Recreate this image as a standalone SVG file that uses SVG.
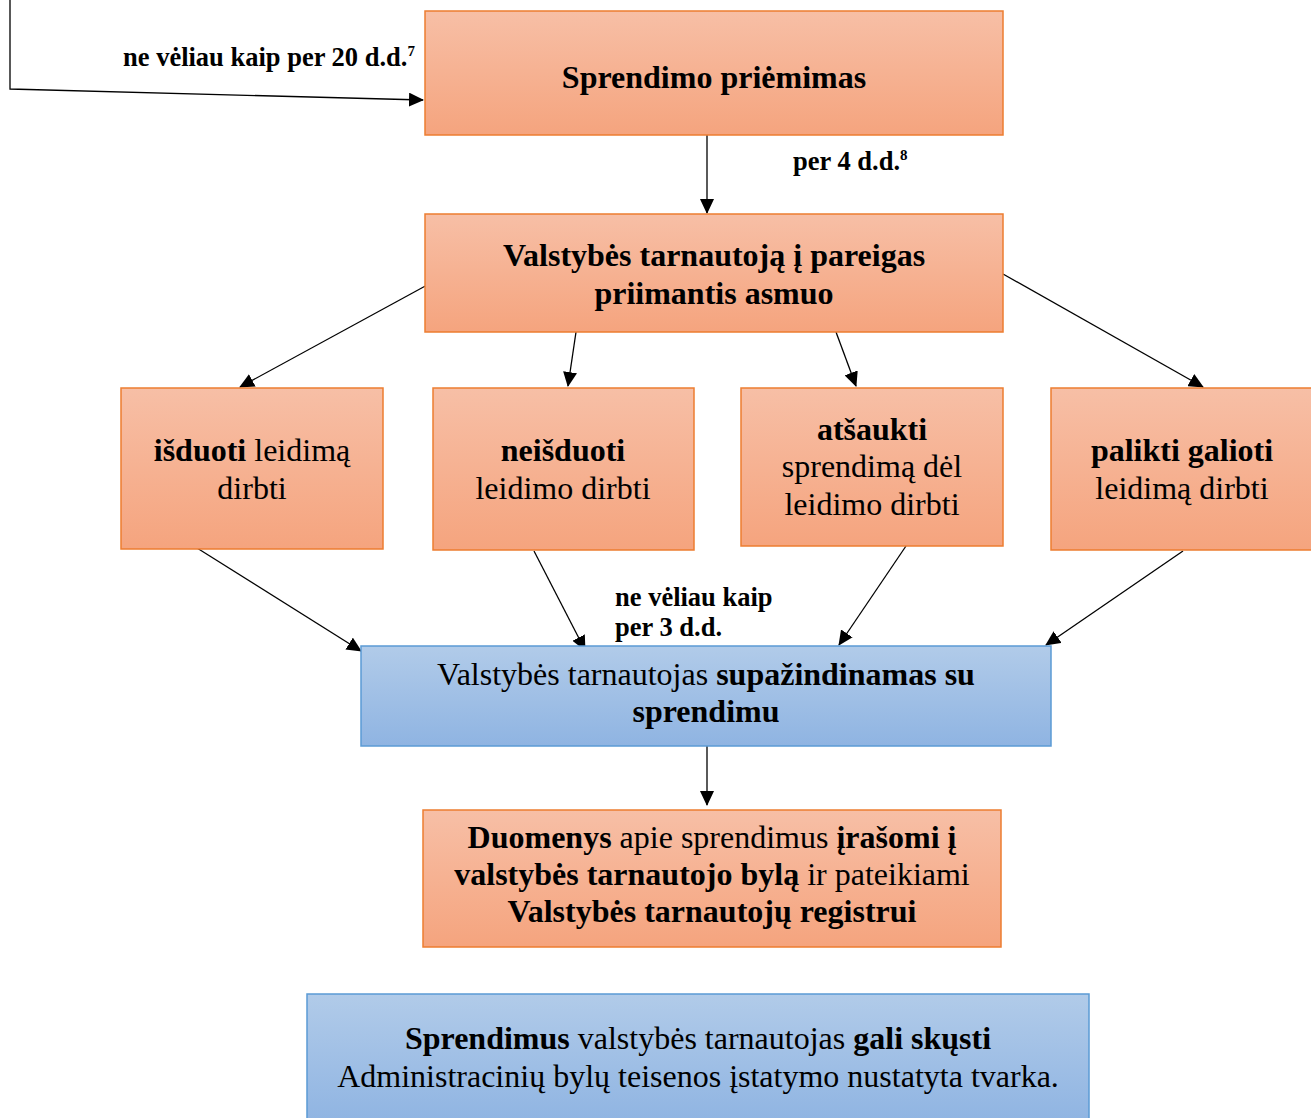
<svg xmlns="http://www.w3.org/2000/svg" width="1311" height="1118" viewBox="0 0 1311 1118">
<defs>
<linearGradient id="og" x1="0" y1="0" x2="0" y2="1">
<stop offset="0" stop-color="#F7BFA6"/>
<stop offset="1" stop-color="#F5A47E"/>
</linearGradient>
<linearGradient id="bg" x1="0" y1="0" x2="0" y2="1">
<stop offset="0" stop-color="#B1CBE9"/>
<stop offset="1" stop-color="#8FB4E2"/>
</linearGradient>
<marker id="ah" markerWidth="15" markerHeight="14" refX="14" refY="7" orient="auto" markerUnits="userSpaceOnUse">
<path d="M0,0 L15,7 L0,14 z" fill="#000"/>
</marker>
<style>
.o{fill:url(#og);stroke:#ED7D31;stroke-width:1.5}
.b{fill:url(#bg);stroke:#5B9BD5;stroke-width:1.5}
text{font-family:"Liberation Serif","Times New Roman",serif;fill:#000}
.t{font-size:32px;text-anchor:middle}
.l{font-size:26.5px;font-weight:bold}
.bd{font-weight:bold}
.c{stroke:#000;stroke-width:1.3;fill:none;marker-end:url(#ah)}
</style>
</defs>
<g id="connectors">
<polyline class="c" points="10,0 10,89 423,100"/>
<line class="c" x1="707" y1="135" x2="707" y2="213"/>
<line class="c" x1="429" y1="284" x2="240" y2="387"/>
<line class="c" x1="576" y1="332" x2="568" y2="386"/>
<line class="c" x1="836" y1="332" x2="856" y2="386"/>
<line class="c" x1="1003" y1="274" x2="1203" y2="387"/>
<line class="c" x1="197" y1="548" x2="361" y2="651"/>
<line class="c" x1="534" y1="551" x2="585" y2="650"/>
<line class="c" x1="906" y1="546" x2="839" y2="645"/>
<line class="c" x1="1183" y1="551" x2="1046" y2="645"/>
<line class="c" x1="707" y1="746" x2="707" y2="805"/>
</g>
<g id="labels">
<text class="l" x="123" y="66">ne vėliau kaip per 20 d.d.<tspan font-size="15" dy="-10">7</tspan></text>
<text class="l" x="793" y="170">per 4 d.d.<tspan font-size="15" dy="-10">8</tspan></text>
<text class="l" x="615" y="606">ne vėliau kaip</text>
<text class="l" x="615" y="636">per 3 d.d.</text>
</g>
<g id="n1">
<rect class="o" x="425" y="11" width="578" height="124"/>
<text class="t bd" x="714" y="88">Sprendimo priėmimas</text>
</g>
<g id="n2">
<rect class="o" x="425" y="214" width="578" height="118"/>
<text class="t bd" x="714" y="266">Valstybės tarnautoją į pareigas</text>
<text class="t bd" x="714" y="304">priimantis asmuo</text>
</g>
<g id="n3">
<rect class="o" x="121" y="388" width="262" height="161"/>
<text class="t" x="252" y="461"><tspan class="bd">išduoti</tspan> leidimą</text>
<text class="t" x="252" y="499">dirbti</text>
</g>
<g id="n4">
<rect class="o" x="433" y="388" width="261" height="162"/>
<text class="t bd" x="563" y="461">neišduoti</text>
<text class="t" x="563" y="499">leidimo dirbti</text>
</g>
<g id="n5">
<rect class="o" x="741" y="388" width="262" height="158"/>
<text class="t bd" x="872" y="440">atšaukti</text>
<text class="t" x="872" y="477">sprendimą dėl</text>
<text class="t" x="872" y="515">leidimo dirbti</text>
</g>
<g id="n6">
<rect class="o" x="1051" y="388" width="262" height="162"/>
<text class="t bd" x="1182" y="461">palikti galioti</text>
<text class="t" x="1182" y="499">leidimą dirbti</text>
</g>
<g id="n7">
<rect class="b" x="361" y="646" width="690" height="100"/>
<text class="t" x="706" y="685">Valstybės tarnautojas <tspan class="bd">supažindinamas su</tspan></text>
<text class="t bd" x="706" y="722">sprendimu</text>
</g>
<g id="n8">
<rect class="o" x="423" y="810" width="578" height="137"/>
<text class="t" x="712" y="848"><tspan class="bd">Duomenys</tspan> apie sprendimus <tspan class="bd">įrašomi į</tspan></text>
<text class="t" x="712" y="885"><tspan class="bd">valstybės tarnautojo bylą</tspan> ir pateikiami</text>
<text class="t bd" x="712" y="922">Valstybės tarnautojų registrui</text>
</g>
<g id="n9">
<rect class="b" x="307" y="994" width="782" height="130"/>
<text class="t" x="698" y="1049"><tspan class="bd">Sprendimus</tspan> valstybės tarnautojas <tspan class="bd">gali skųsti</tspan></text>
<text class="t" x="698" y="1087">Administracinių bylų teisenos įstatymo nustatyta tvarka.</text>
</g>
</svg>
